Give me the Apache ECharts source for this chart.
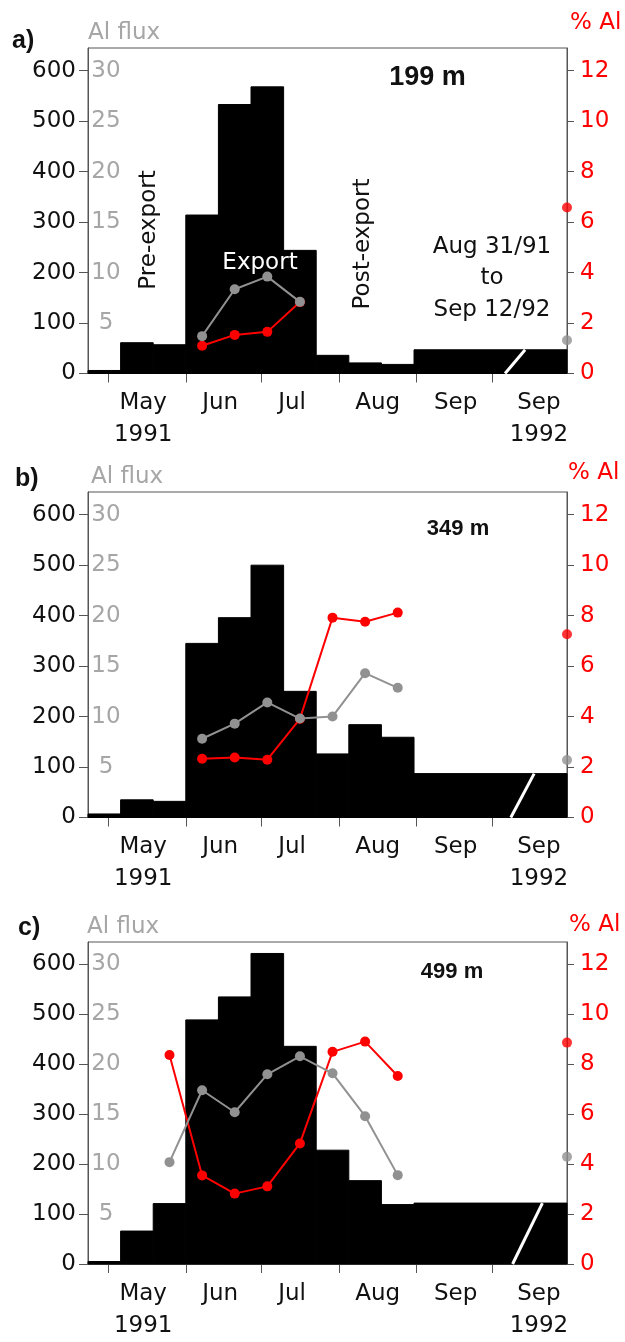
<!DOCTYPE html>
<html><head><meta charset="utf-8">
<script src="https://cdn.jsdelivr.net/npm/echarts@6/dist/echarts.min.js"></script>
<style>html,body{margin:0;padding:0;background:#fff}#c{width:625px;height:1342px}</style>
</head><body><div id="c"></div>
<script>
// ---- data (days counted from May 1, 1991) ----
const binEdges = [-8, 5, 18, 31, 44, 57, 70, 83, 96, 109, 122, 183];
const monthTickDays = [0, 31, 61, 92, 123, 153];
const monthLabelDays = [14, 44.7, 73.4, 107.5, 138.6, 171.8];
const monthLabels = ['May\n1991', 'Jun', 'Jul', 'Aug', 'Sep', 'Sep\n1992'];
const fluxTicks = [0, 100, 200, 300, 400, 500, 600];
const alFluxTicks = [5, 10, 15, 20, 25, 30];
const pctTicks = [0, 2, 4, 6, 8, 10, 12];

const panelLetters = ['a)', 'b)', 'c)'];
const depths = ['199 m', '349 m', '499 m'];

// total flux (black bars, left axis)
const totalFluxA = [6, 61, 57, 314, 533, 568, 244, 36, 21, 18, 47];
const totalFluxB = [7, 35, 32, 345, 396, 500, 250, 126, 184, 159, 87];
const totalFluxC = [5, 66, 121, 489, 535, 622, 436, 228, 167, 119, 122];

// Al flux (grey) and % Al (red); first sampled bin index
const firstBinA = 3, firstBinB = 3, firstBinC = 2;
const alFluxA = [3.7, 8.35, 9.6, 7.1];
const alFluxB = [7.8, 9.3, 11.4, 9.8, 10.0, 14.3, 12.85];
const alFluxC = [10.2, 17.4, 15.2, 19.0, 20.8, 19.1, 14.8, 8.9];
const pctAlA = [1.10, 1.53, 1.65, 2.83];
const pctAlB = [2.33, 2.38, 2.29, 3.91, 7.92, 7.76, 8.12];
const pctAlC = [8.37, 3.55, 2.82, 3.11, 4.83, 8.50, 8.91, 7.53];
// long-term sample Aug 31/91 - Sep 12/92
const alFluxEnd = [3.3, 5.7, 10.75];
const pctAlEnd = [6.58, 7.26, 8.87];
// axis-break slash (day at bottom, day at top)
const breakA = [158.3, 166.3], breakB = [160.6, 169.9], breakC = [161.3, 173.2];

// ---- layout ----
const panelTops = [48, 492, 942];
const panelHeights = [325.5, 325.5, 326];
const FONT = 'DejaVu Sans';
const AXC = '#555';
const GREY = '#919191';
const RED = '#ff0000';

const panels = [
  {flux: totalFluxA, first: firstBinA, al: alFluxA, pct: pctAlA, brk: breakA},
  {flux: totalFluxB, first: firstBinB, al: alFluxB, pct: pctAlB, brk: breakB},
  {flux: totalFluxC, first: firstBinC, al: alFluxC, pct: pctAlC, brk: breakC}
];

const grids = [], xAxes = [], yAxes = [], series = [];
panels.forEach((p, k) => {
  grids.push({left: 88, width: 479, top: panelTops[k], height: panelHeights[k],
    show: true, borderColor: AXC, borderWidth: 1, backgroundColor: 'transparent'});
  xAxes.push({type: 'value', gridIndex: k, min: -8, max: 183,
    axisLine: {show: true, onZero: false, lineStyle: {color: AXC, width: 1}},
    axisTick: {show: true, customValues: monthTickDays, length: 9, lineStyle: {color: AXC}},
    axisLabel: {customValues: monthLabelDays, margin: 14, fontFamily: FONT, fontSize: 23,
      color: '#111', lineHeight: 32, align: 'center',
      formatter: v => { const i = monthLabelDays.findIndex(d => Math.abs(d - v) < 0.01); return i >= 0 ? monthLabels[i] : ''; }},
    splitLine: {show: false}});
  yAxes.push({type: 'value', gridIndex: k, position: 'left', min: 0, max: 645,
    axisLine: {show: true, onZero: false, lineStyle: {color: AXC, width: 1}},
    axisTick: {show: true, customValues: fluxTicks, length: 9, lineStyle: {color: AXC}},
    axisLabel: {customValues: fluxTicks, margin: 12, fontFamily: FONT, fontSize: 23, color: '#111'},
    splitLine: {show: false}});
  yAxes.push({type: 'value', gridIndex: k, position: 'left', offset: 0, min: 0, max: 32.25,
    axisLine: {show: false, onZero: false}, axisTick: {show: false},
    axisLabel: {customValues: alFluxTicks, inside: true, margin: 18, align: 'center',
      fontFamily: FONT, fontSize: 23, color: '#a6a6a6'},
    splitLine: {show: false}});
  yAxes.push({type: 'value', gridIndex: k, position: 'right', min: 0, max: 12.9,
    axisLine: {show: true, onZero: false, lineStyle: {color: AXC, width: 1}},
    axisTick: {show: true, customValues: pctTicks, length: 7, lineStyle: {color: AXC}},
    axisLabel: {customValues: pctTicks, margin: 13, fontFamily: FONT, fontSize: 23, color: RED},
    splitLine: {show: false}});

  const yL = 3 * k, yG = 3 * k + 1, yR = 3 * k + 2;
  series.push({type: 'custom', xAxisIndex: k, yAxisIndex: yL, z: 2,
    data: p.flux.map((v, i) => [binEdges[i], binEdges[i + 1], v]),
    encode: {x: [0, 1], y: 2},
    renderItem: (params, api) => {
      const a = api.coord([api.value(0), api.value(2)]);
      const b = api.coord([api.value(1), 0]);
      return {type: 'rect', shape: {x: a[0], y: a[1], width: b[0] - a[0], height: b[1] - a[1]},
        style: {fill: '#000', stroke: '#000', lineWidth: 1}};
    }});
  series.push({type: 'line', xAxisIndex: k, yAxisIndex: yL, z: 3, silent: true, symbol: 'none',
    data: [[p.brk[0], 0], [p.brk[1], p.flux[p.flux.length - 1]]],
    lineStyle: {color: '#fff', width: 3}});
  const mid = i => (binEdges[p.first + i] + binEdges[p.first + i + 1]) / 2;
  series.push({type: 'line', xAxisIndex: k, yAxisIndex: yR, z: 4,
    data: p.pct.map((v, i) => [mid(i), v]),
    symbol: 'circle', symbolSize: 10, itemStyle: {color: RED}, lineStyle: {color: RED, width: 2}});
  series.push({type: 'line', xAxisIndex: k, yAxisIndex: yG, z: 5,
    data: p.al.map((v, i) => [mid(i), v]),
    symbol: 'circle', symbolSize: 10, itemStyle: {color: GREY}, lineStyle: {color: GREY, width: 2}});
  series.push({type: 'scatter', xAxisIndex: k, yAxisIndex: yR, z: 6, clip: false,
    data: [[183, pctAlEnd[k]]], symbolSize: 10, itemStyle: {color: RED}});
  series.push({type: 'scatter', xAxisIndex: k, yAxisIndex: yG, z: 6, clip: false,
    data: [[183, alFluxEnd[k]]], symbolSize: 10, itemStyle: {color: GREY}});
});

const txt = (x, y, text, style, extra) => Object.assign({type: 'text', x, y, z: 100,
  style: Object.assign({text, fontFamily: FONT, fontSize: 23, fill: '#111',
    textAlign: 'left', textVerticalAlign: 'middle'}, style)}, extra || {});

const letterPos = [[12, 41], [15, 479], [18, 928]];
const alFluxPos = [[88, 33], [91, 477], [87, 927]];
const pctPos = [[570, 23], [568, 473], [569, 925]];
const depthPos = [[427.5, 78, 27], [458, 529, 22], [452, 972, 22]];
const graphics = [];
for (let k = 0; k < 3; k++) {
  graphics.push(txt(letterPos[k][0], letterPos[k][1], panelLetters[k],
    {fontFamily: 'Liberation Sans', fontWeight: 'bold', fontSize: 25}));
  graphics.push(txt(alFluxPos[k][0], alFluxPos[k][1], 'Al flux', {fill: '#a6a6a6'}));
  graphics.push(txt(pctPos[k][0], pctPos[k][1], '% Al', {fill: RED}));
  graphics.push(txt(depthPos[k][0], depthPos[k][1], depths[k],
    {fontFamily: 'Liberation Sans', fontWeight: 'bold', fontSize: depthPos[k][2], textAlign: 'center'}));
}
graphics.push(txt(149, 230, 'Pre-export', {textAlign: 'center'}, {rotation: Math.PI / 2}));
graphics.push(txt(363, 244, 'Post-export', {textAlign: 'center'}, {rotation: Math.PI / 2}));
graphics.push(txt(260, 263, 'Export', {textAlign: 'center', fill: '#fff'}));
graphics.push(txt(492, 278.5, 'Aug 31/91\nto\nSep 12/92', {textAlign: 'center', lineHeight: 31.5}));

const chart = echarts.init(document.getElementById('c'), null, {renderer: 'canvas'});
chart.setOption({
  animation: false,
  backgroundColor: '#fff',
  grid: grids, xAxis: xAxes, yAxis: yAxes, series: series, graphic: graphics
});
</script></body></html>
